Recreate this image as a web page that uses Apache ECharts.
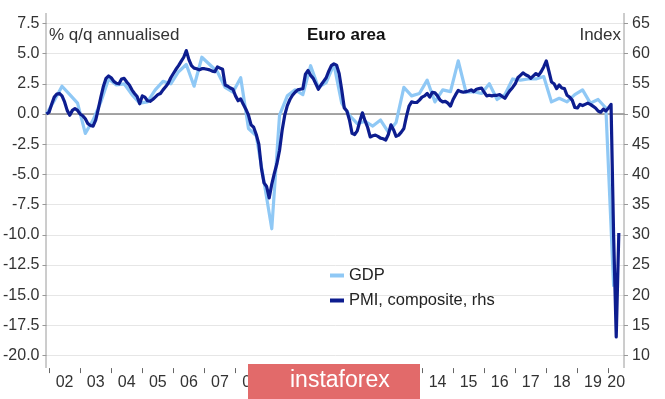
<!DOCTYPE html>
<html>
<head>
<meta charset="utf-8">
<script src="https://cdn.jsdelivr.net/npm/echarts@6/dist/echarts.min.js"></script>
<style>
html,body{margin:0;padding:0;background:#fff;}
#chart{width:665px;height:399px;}
</style>
</head>
<body>
<div id="chart"></div>
<script>
// Monthly categories Dec 2001 .. Jul 2020
var firstYear = 2001, firstMonth = 12, monthCount = 224;

// PMI composite (rhs), monthly from Dec 2001 to May 2020
var pmiStart = '2001-12';
var pmiValues = [
  50.0,
  50.3, 51.6, 52.8, 53.3, 53.4, 53.0, 52.0, 50.6, 49.8, 50.6, 50.9, 50.6,
  50.0, 49.7, 49.2, 48.4, 48.1, 48.0, 49.0, 50.8, 52.8, 54.6, 55.9, 56.3,
  56.0, 55.4, 55.1, 55.0, 55.8, 55.9, 55.3, 54.8, 54.0, 53.4, 52.9, 51.7,
  53.0, 52.8, 52.2, 52.1, 52.4, 52.8, 53.2, 53.4, 54.0, 54.5, 55.1, 56.0,
  56.7, 57.4, 58.0, 58.7, 59.4, 60.5, 59.0, 58.0, 57.6, 57.5, 57.3, 57.5,
  57.5, 57.4, 57.3, 57.1, 57.0, 57.8, 57.6, 57.4, 54.8, 54.6, 54.3, 54.1,
  53.0, 52.2, 52.5, 51.6, 50.8, 49.8, 48.2, 47.8, 46.6, 45.0, 41.0, 38.6,
  38.0, 36.1, 38.4, 40.2, 41.8, 44.0, 47.3, 49.8, 51.4, 52.4, 53.1, 53.6,
  54.0, 54.1, 54.2, 56.6, 57.2, 56.4, 55.9, 55.0, 54.1, 54.8, 55.4, 56.0,
  57.1, 58.0, 58.3, 58.1, 56.7, 54.0, 51.0, 50.5, 49.0, 46.8, 46.6, 47.2,
  48.8, 50.2, 48.9, 47.8, 46.2, 46.4, 46.5, 46.3, 46.0, 45.9, 45.7, 46.6,
  48.2, 47.4, 46.3, 46.5, 47.0, 47.6, 49.6, 51.3, 52.0, 51.9, 51.9, 52.3,
  52.8, 53.0, 53.4, 52.8, 53.6, 53.5, 53.0, 52.3, 52.0, 52.1, 51.8, 51.3,
  52.4, 53.2, 53.9, 53.7, 53.6, 53.7, 53.8, 54.0, 53.7, 54.1, 54.2, 54.3,
  53.6, 53.0, 53.1, 53.0, 53.1, 53.1, 53.2, 52.9, 52.6, 53.3, 53.9, 54.4,
  55.0, 56.0, 56.4, 56.8, 56.5, 56.3, 55.9, 56.3, 56.7, 56.4, 57.0, 57.8,
  58.8, 57.1, 55.3, 55.0, 54.2, 54.8, 54.3, 54.2, 53.1, 52.8, 52.3, 51.1,
  51.0, 51.6, 51.4, 51.6, 51.8, 51.6, 51.3, 51.0, 50.5, 50.3, 50.8, 50.5,
  51.0, 51.6, 29.7, 13.1, 30.3
];

// GDP % q/q annualised, quarterly (plotted at quarter-end month), Q4 2001 .. Q1 2020
var gdpStart = '2001-12';
var gdpValues = [
  0.0,
  1.1, 2.3, 1.6, 0.9,
  -1.6, -0.5, 1.0, 2.9,
  2.4, 2.5, 1.6, 0.9,
  1.0, 2.0, 2.7, 2.5,
  3.5, 4.1, 2.3, 4.7,
  4.1, 3.5, 2.2, 1.8,
  3.0, -1.2, -1.8, -5.6,
  -9.5, -0.1, 1.5, 2.0,
  1.6, 4.0, 2.2, 2.6,
  4.1, 0.9, -0.1, -0.8,
  -0.6, -1.0, -0.5, -1.5,
  -0.7, 2.2, 1.5, 1.7,
  2.8, 1.0, 2.0, 1.85,
  4.4, 1.8, 1.85, 1.7,
  2.5, 1.2, 1.6, 2.9,
  2.8, 2.9, 2.9, 3.1,
  1.0, 1.3, 1.0, 1.6,
  2.0, 0.9, 1.2, 0.5,
  -14.3
];

var leftTicks = { min: -20, max: 7.5, interval: 2.5 };
var rightTicks = { min: 10, max: 65, interval: 5 };

var categories = [];
(function(){
  var y = firstYear, m = firstMonth;
  for (var i = 0; i < monthCount; i++) {
    categories.push(y + '-' + (m < 10 ? '0' + m : '' + m));
    m++; if (m > 12) { m = 1; y++; }
  }
})();

var pmiOffset = categories.indexOf(pmiStart);
var pmiData = pmiValues.map(function(v, i){ return [categories[pmiOffset + i], v]; });
var gdpOffset = categories.indexOf(gdpStart);
var gdpData = gdpValues.map(function(v, i){ return [categories[gdpOffset + i * 3], v]; });

var FONT = '"Liberation Sans", Arial, sans-serif';
var TXT = '#333333';

var chart = echarts.init(document.getElementById('chart'), null, {renderer: 'canvas'});
chart.setOption({
  animation: false,
  backgroundColor: '#ffffff',
  textStyle: { fontFamily: FONT },
  grid: { left: 46, right: 41, top: 23.4, bottom: 43.4, containLabel: false },
  legend: {
    orient: 'vertical', left: 325, top: 262, itemWidth: 14, itemHeight: 4, itemGap: 8,
    icon: 'rect',
    textStyle: { fontFamily: FONT, fontSize: 16.5, color: '#222' },
    data: ['GDP', 'PMI, composite, rhs']
  },
  xAxis: [{
    type: 'category', data: categories, boundaryGap: false, position: 'bottom', offset: 12.5,
    axisLine: { show: false, onZero: false },
    axisTick: { show: true, length: 5, lineStyle: { color: '#666', width: 1 },
      interval: function(i){ return categories[i].slice(5) === '01'; } },
    axisLabel: { fontFamily: FONT, fontSize: 16, color: TXT, margin: 6,
      interval: function(i, v){ return (v.slice(5) === '07' && v < '2020') || v === '2020-04'; },
      formatter: function(v){ return v.slice(2, 4); } },
    splitLine: { show: false }
  }, {
    type: 'category', data: categories, boundaryGap: false, position: 'bottom',
    axisLine: { show: true, onZero: true, onZeroAxisIndex: 0, lineStyle: { color: '#8a8a8a', width: 1.6 } },
    axisTick: { show: false }, axisLabel: { show: false }, splitLine: { show: false }
  }],
  yAxis: [{
    type: 'value', position: 'left', min: leftTicks.min, max: leftTicks.max, interval: leftTicks.interval,
    axisLine: { show: false },
    axisTick: { show: true, length: 4, lineStyle: { color: '#999' } },
    axisLabel: { fontFamily: FONT, fontSize: 16, color: TXT, margin: 7,
      formatter: function(v){ return v.toFixed(1); } },
    splitLine: { show: true, lineStyle: { color: '#e6e6e6', width: 1 } }
  }, {
    type: 'value', position: 'right', min: rightTicks.min, max: rightTicks.max, interval: rightTicks.interval,
    axisLine: { show: false },
    axisTick: { show: true, length: 4, lineStyle: { color: '#999' } },
    axisLabel: { fontFamily: FONT, fontSize: 16, color: TXT, margin: 8 },
    splitLine: { show: false }
  }],
  series: [{
    name: 'GDP', type: 'line', data: gdpData, yAxisIndex: 0, xAxisIndex: 0,
    showSymbol: false, symbol: 'none', connectNulls: true,
    lineStyle: { color: '#8fc8f5', width: 3.2, join: 'round' }, itemStyle: { color: '#8fc8f5' }, z: 2
  }, {
    name: 'PMI, composite, rhs', type: 'line', data: pmiData, yAxisIndex: 1, xAxisIndex: 0,
    showSymbol: false, symbol: 'none',
    lineStyle: { color: '#0d1d8f', width: 3.2, join: 'round' }, itemStyle: { color: '#0d1d8f' }, z: 3
  }],
  graphic: [
    { type: 'line', shape: { x1: 46, y1: 13, x2: 46, y2: 368 }, style: { stroke: '#9a9a9a', lineWidth: 1 }, z: 1 },
    { type: 'line', shape: { x1: 624, y1: 13, x2: 624, y2: 368 }, style: { stroke: '#9a9a9a', lineWidth: 1 }, z: 1 },
    { type: 'text', left: 49, top: 27, style: { text: '% q/q annualised', font: '17px ' + FONT, fill: TXT } },
    { type: 'text', left: 307, top: 27, style: { text: 'Euro area', font: 'bold 17px ' + FONT, fill: '#111' } },
    { type: 'text', right: 44, top: 27, style: { text: 'Index', font: '17px ' + FONT, fill: TXT } },
    { type: 'rect', left: 248, top: 364, z: 100, zlevel: 1, shape: { width: 172, height: 35 }, style: { fill: '#e26a6a' } },
    { type: 'text', left: 290, top: 369, z: 101, zlevel: 1, style: { text: 'instaforex', font: '23px "Liberation Sans Narrow", ' + FONT, fill: '#ffffff' } }
  ]
});
</script>
</body>
</html>
